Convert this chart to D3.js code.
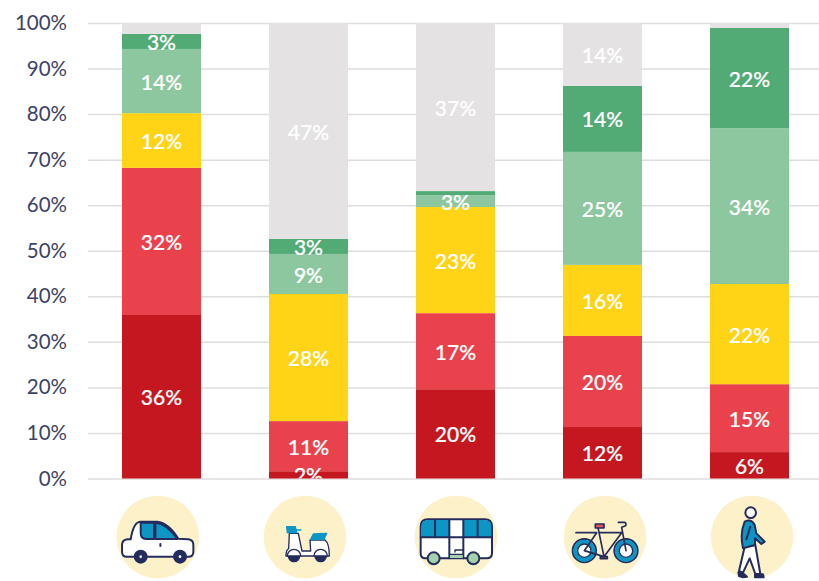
<!DOCTYPE html>
<html>
<head>
<meta charset="utf-8">
<script src="https://cdn.jsdelivr.net/npm/d3@7"></script>
<style>
  html, body { margin: 0; padding: 0; background: #fff; overflow: hidden; }
  svg { display: block; }
  text { font-family: Lato, "Open Sans", sans-serif; }
</style>
</head>
<body>
<div id="chart"></div>
<script>
// values, bottom segment first
const modes = ["car", "scooter", "bus", "bike", "walk"];
const ticks = [0, 10, 20, 30, 40, 50, 60, 70, 80, 90, 100];
const seriesNames = ["s1", "s2", "s3", "s4", "s5", "s6"];
const s1 = [35.9, 1.6, 19.6, 11.3, 5.8];
const s2 = [32.3, 11.0, 16.7, 20.0, 14.9];
const s3 = [12.0, 27.9, 23.3, 15.6, 22.0];
const s4 = [14.1, 8.8, 2.6, 24.8, 34.2];
const s5 = [3.3, 3.3, 0.9, 14.5, 22.0];
const s6 = [2.4, 47.4, 36.9, 13.8, 1.1];
const labels1 = ["36%", "2%", "20%", "12%", "6%"];
const labels2 = ["32%", "11%", "17%", "20%", "15%"];
const labels3 = ["12%", "28%", "23%", "16%", "22%"];
const labels4 = ["14%", "9%", "3%", "25%", "34%"];
const labels5 = ["3%", "3%", "", "14%", "22%"];
const labels6 = ["", "47%", "37%", "14%", ""];
const seriesColors = ["#c41720", "#e9424c", "#ffd316", "#8dc7a0", "#52ab75", "#e4e2e3"];

const allSeries = [s1, s2, s3, s4, s5, s6];
const allLabels = [labels1, labels2, labels3, labels4, labels5, labels6];

const svgWidth = 819;
const svgHeight = 581;
const plotTop = 23;
const plotBottom = 478.5;
const plotLeft = 88;

const navy = "#232c5c";
const blue = "#0d96c4";

const svg = d3.select("#chart").append("svg")
    .attr("width", svgWidth)
    .attr("height", svgHeight);

const xScale = d3.scaleBand()
    .domain(modes)
    .range([plotLeft, 823])
    .paddingInner(0.4626)
    .paddingOuter(0.2313);

const yScale = d3.scaleLinear()
    .domain([0, 100])
    .range([plotBottom, plotTop]);

// gridlines and tick labels
const yAxis = d3.axisLeft(yScale)
    .tickValues(ticks)
    .tickSize(-(svgWidth - plotLeft))
    .tickFormat(d => d + "%");

const axisG = svg.append("g")
    .attr("transform", "translate(" + plotLeft + ",0)")
    .call(yAxis);
axisG.select(".domain").remove();
axisG.selectAll(".tick line").attr("stroke", "#dedede").attr("stroke-width", 1.5);
axisG.selectAll(".tick text")
    .attr("x", -21)
    .attr("fill", "#3d4364")
    .style("font-size", "20.5px");

// labels are cut off at the axis, like the 2% one
svg.append("clipPath").attr("id", "plotClip")
    .append("rect")
    .attr("x", 0).attr("y", 0)
    .attr("width", svgWidth)
    .attr("height", plotBottom);

const stack = d3.stack().keys(d3.range(seriesNames.length)).value((d, k) => allSeries[k][d]);
const stacked = stack(d3.range(modes.length));

const barsG = svg.append("g");
stacked.forEach((layer, k) => {
    barsG.selectAll(".seg" + k)
        .data(layer)
        .enter()
        .append("rect")
        .attr("x", (d, i) => xScale(modes[i]))
        .attr("y", d => yScale(d[1]))
        .attr("width", xScale.bandwidth())
        .attr("height", d => yScale(d[0]) - yScale(d[1]))
        .attr("fill", seriesColors[k]);
});

const labelsG = svg.append("g").attr("clip-path", "url(#plotClip)");
stacked.forEach((layer, k) => {
    labelsG.selectAll(".lab" + k)
        .data(layer)
        .enter()
        .append("text")
        .attr("x", (d, i) => xScale(modes[i]) + xScale.bandwidth() / 2)
        .attr("y", d => yScale((d[0] + d[1]) / 2) + 1)
        .attr("dy", "0.36em")
        .attr("text-anchor", "middle")
        .attr("fill", "#fff")
        .attr("stroke", "#fff")
        .attr("stroke-width", 0.2)
        .style("font-size", "21px")
        .style("font-weight", 500)
        .text((d, i) => allLabels[k][i]);
});

// icons, paths are in a 3x local space around the circle centre
const iconCenters = [157.7, 305, 456, 605, 752];
const iconY = 537;

function icon(i, cx, cy) {
    const g = svg.append("g")
        .attr("transform", "translate(" + iconCenters[i] + "," + iconY + ") scale(0.3333) translate(" + (-cx) + "," + (-cy) + ")")
        .attr("stroke", navy)
        .attr("stroke-width", 6)
        .attr("stroke-linejoin", "round")
        .attr("stroke-linecap", "round");
    g.append("circle").attr("cx", cx).attr("cy", cy).attr("r", 124).attr("fill", "#fdf1c9").attr("stroke", "none");
    return g;
}
function path(g, d, fill) {
    return g.append("path").attr("d", d).attr("fill", fill || "none");
}
function disc(g, x, y, r, fill, stroke) {
    const c = g.append("circle").attr("cx", x).attr("cy", y).attr("r", r).attr("fill", fill);
    if (stroke === false) c.attr("stroke", "none");
    return c;
}

// car
const car = icon(0, 173, 141);
path(car, "M82 148 L92 148 Q100 95 122 95 L172 95 Q205 98 235 146 L265 148 Q280 150 280 165 L280 185 Q280 200 265 200 L80 200 Q66 200 66 185 L66 165 Q66 150 82 148Z", "#fff");
path(car, "M122 98 L162 98 L162 147 L138 147 Q122 147 122 130Z", blue);
path(car, "M166 98 Q200 100 232 147 L166 147Z", blue);
path(car, "M181 162 L181 168");
disc(car, 122, 200, 18, navy);
disc(car, 122, 200, 4, "#fff", false);
disc(car, 240, 200, 18, navy);
disc(car, 240, 200, 4, "#fff", false);

// scooter
const scooter = icon(1, 615, 141);
scooter.attr("stroke-width", 4);
path(scooter, "M568 130 L595 130 L606 183 L632 183 L630 150 L675 150 Q688 160 688 198 L558 198 Q558 180 566 176Z", "#fff");
path(scooter, "M560 110 L586 110 L590 128 L562 128Z M590 120 L603 120", blue).attr("stroke", blue);
path(scooter, "M632 148 L640 132 L680 130 L672 148Z", blue).attr("stroke", blue);
path(scooter, "M562 198 A20 20 0 0 1 602 198", "#fff");
path(scooter, "M642 198 A20 20 0 0 1 682 198", "#fff");
path(scooter, "M565 198 A17 17 0 0 0 599 198Z", navy);
path(scooter, "M645 198 A17 17 0 0 0 679 198Z", navy);

// bus
const bus = icon(2, 168, 141);
path(bus, "M84 88 L254 88 Q276 88 276 110 L276 190 Q276 205 260 205 L76 205 Q62 205 62 190 L62 110 Q62 88 84 88Z", "#fff");
path(bus, "M84 90 L148 90 L148 142 L64 142 L64 110 Q64 90 84 90Z", blue).attr("stroke", "none");
path(bus, "M190 90 L254 90 Q274 90 274 110 L274 142 L190 142Z", blue).attr("stroke", "none");
path(bus, "M105 90 L105 142 M233 90 L233 142 M148 90 L148 205 M190 90 L190 205 M62 142 L276 142");
path(bus, "M150 194 L188 194 L188 204 L150 204Z", "#a5d1ac").attr("stroke", "none");
path(bus, "M165 186 L165 180 L188 180 M150 193 L188 193").attr("stroke-width", 4);
disc(bus, 101, 205, 18, "#a5d1ac");
disc(bus, 220, 205, 18, "#a5d1ac");

// bike
const bike = icon(3, 615, 141);
bike.attr("stroke-width", 5);
disc(bike, 553, 182, 35, "none").attr("stroke", navy).attr("stroke-width", 6);
disc(bike, 553, 182, 27, "#fff").attr("stroke", blue).attr("stroke-width", 12);
disc(bike, 553, 182, 20, "none").attr("stroke-width", 4);
disc(bike, 678, 182, 35, "none").attr("stroke", navy).attr("stroke-width", 6);
disc(bike, 678, 182, 27, "#fff").attr("stroke", blue).attr("stroke-width", 12);
disc(bike, 678, 182, 20, "none").attr("stroke-width", 4);
path(bike, "M528 128 L590 128 M594 113 L612 200 L665 128 L598 128 M553 182 L590 128 M553 182 L612 200 M655 97 L674 97 Q680 99 677 107 L665 112 L678 182");
path(bike, "M586 102 L612 102 L612 114 L586 114Z", "#e9535a");
path(bike, "M601 200 L622 200 L622 206 L601 206Z", "#e9535a");

// walker
const walk = icon(4, 187, 141);
path(walk, "M165 170 L197 165 L212 252 L197 252 L180 205 L160 248 L148 243Z", "#fff");
path(walk, "M165 95 Q185 85 195 105 L200 130 L225 155 L215 162 L196 145 L196 165 L160 175 Q150 130 165 95Z", blue);
path(walk, "M182 110 L170 148");
disc(walk, 183, 68, 16, "#fff");
path(walk, "M146 247 L160 250 L172 260 L160 262 L148 258Z", navy);
path(walk, "M196 253 L220 253 L222 262 L196 262Z", navy);
</script>
</body>
</html>
